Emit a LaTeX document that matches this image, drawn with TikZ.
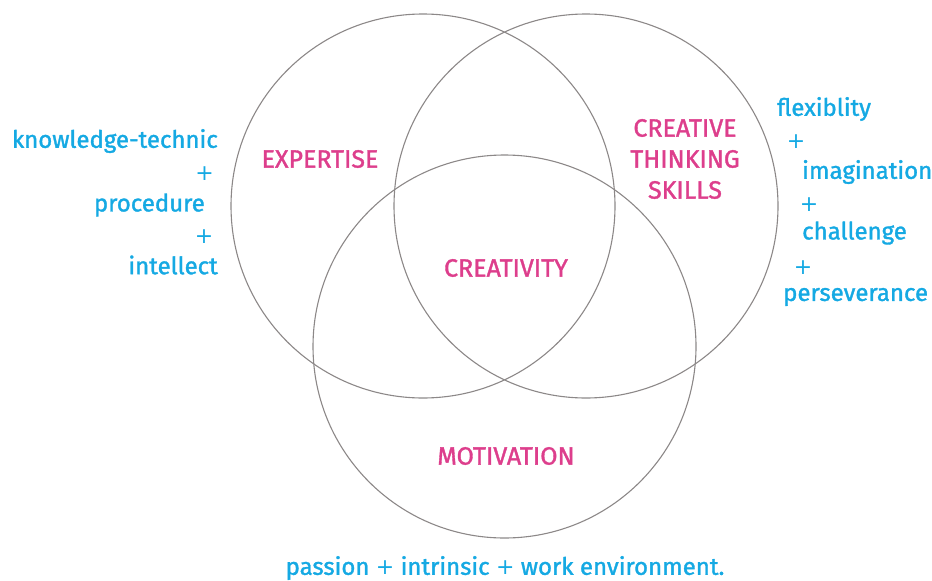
\documentclass[tikz,border=0pt]{standalone}
\usepackage{fontspec}
\setmainfont[FakeBold=1.4]{Fira Sans}
\newfontfamily\plusfont{DejaVu Sans}
\newcommand{\pl}{{\plusfont\fontsize{22}{26}\selectfont +}}
\definecolor{pinkc}{HTML}{DD3E8C}
\definecolor{bluec}{HTML}{15A9E3}
\definecolor{ringc}{HTML}{8C8888}
\begin{document}
\begin{tikzpicture}[x=1pt,y=-1pt,
  ring/.style={draw=ringc,line width=1.1pt},
  lbl/.style={text=pinkc,font=\fontsize{25}{31}\selectfont,align=center,inner sep=0pt},
  note/.style={text=bluec,font=\fontsize{24}{26}\selectfont,inner sep=0pt}]
\useasboundingbox (0,0) rectangle (932,581);
\node[ring,circle,minimum size=384pt,inner sep=0pt] (cl) at (423,206) {};
\node[ring,circle,minimum size=384pt,inner sep=0pt] (cr) at (586,206) {};
\node[ring,circle,minimum size=383pt,inner sep=0pt] (cb) at (504.5,346.5) {};
\node[lbl] (exp) at (320,159) {EXPERTISE};
\node[lbl] (cts) at (685,159) {CREATIVE\\THINKING\\SKILLS};
\node[lbl] (cre) at (506,268) {CREATIVITY};
\node[lbl] (mot) at (506,456) {MOTIVATION};
\node[note,anchor=east] (k1) at (218,141) {knowledge-technic};
\node[note] (p1) at (204.5,174) {\pl};
\node[note,anchor=east] (k2) at (205,205) {procedure};
\node[note] (p2) at (204,237) {\pl};
\node[note,anchor=east] (k3) at (218,265) {intellect};
\node[note,anchor=west] (r1) at (777,109) {flexiblity};
\node[note] (q1) at (796,142) {\pl};
\node[note,anchor=west] (r2) at (802,172) {imagination};
\node[note] (q2) at (809,205) {\pl};
\node[note,anchor=west] (r3) at (802,233) {challenge};
\node[note] (q3) at (803,268) {\pl};
\node[note,anchor=west] (r4) at (783,297) {perseverance};
\node[note] (bot) at (505,568) {passion \pl{} intrinsic \pl{} work environment.};
\end{tikzpicture}
\end{document}
